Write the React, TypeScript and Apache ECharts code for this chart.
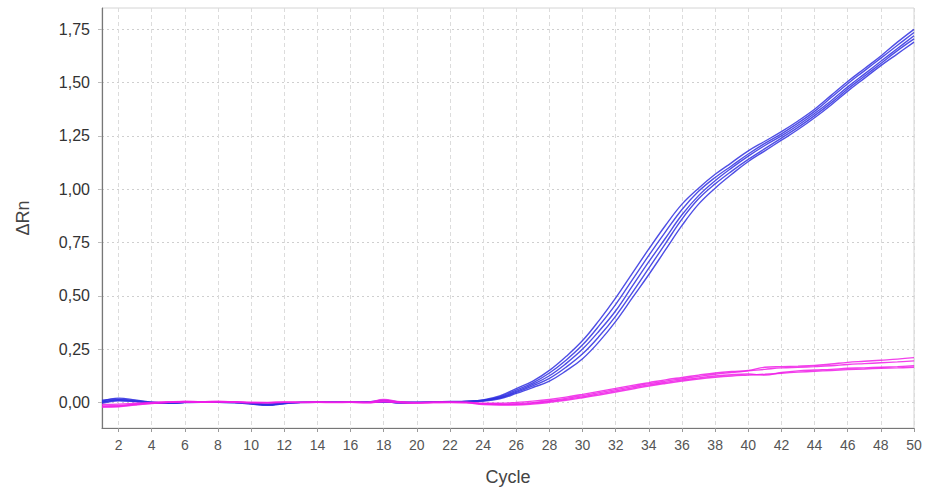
import React, { useEffect, useRef } from "react";
import * as echarts from "echarts";

const cycles = [
  "1", "2", "3", "4", "5", "6", "7", "8", "9", "10",
  "11", "12", "13", "14", "15", "16", "17", "18", "19", "20",
  "21", "22", "23", "24", "25", "26", "27", "28", "29", "30",
  "31", "32", "33", "34", "35", "36", "37", "38", "39", "40",
  "41", "42", "43", "44", "45", "46", "47", "48", "49", "50",
];

const yTicks = [0, 0.25, 0.5, 0.75, 1, 1.25, 1.5, 1.75];

const blueA = [
  0.005, 0.02, 0.012, 0.002, -0.003, 0.0, 0.0, 0.002, 0.0, -0.006,
  -0.012, -0.004, 0.0, 0.001, 0.0, 0.0, 0.002, 0.01, 0.002, 0.0,
  0.002, 0.004, 0.006, 0.012, 0.03, 0.065, 0.1, 0.15, 0.215, 0.29,
  0.385, 0.49, 0.605, 0.72, 0.83, 0.93, 1.005, 1.07, 1.125, 1.18,
  1.225, 1.27, 1.32, 1.375, 1.44, 1.505, 1.565, 1.625, 1.69, 1.75,
];
const blueB = [
  0.01, 0.015, 0.008, 0.0, -0.002, 0.001, 0.0, 0.0, -0.002, -0.008,
  -0.014, -0.006, 0.0, 0.0, 0.001, 0.0, 0.0, 0.006, 0.0, 0.0,
  0.001, 0.003, 0.005, 0.01, 0.026, 0.058, 0.092, 0.138, 0.198, 0.27,
  0.36, 0.46, 0.575, 0.69, 0.8, 0.905, 0.99, 1.055, 1.11, 1.165,
  1.215, 1.26, 1.31, 1.365, 1.43, 1.495, 1.555, 1.615, 1.675, 1.735,
];
const blueC = [
  0.0, 0.012, 0.006, -0.002, -0.004, -0.001, 0.001, 0.001, -0.001, -0.005,
  -0.01, -0.005, -0.001, 0.0, 0.0, 0.001, 0.001, 0.004, -0.002, 0.0,
  0.0, 0.002, 0.004, 0.009, 0.023, 0.052, 0.085, 0.125, 0.182, 0.25,
  0.335, 0.43, 0.545, 0.66, 0.77, 0.88, 0.97, 1.04, 1.1, 1.155,
  1.205, 1.25, 1.3, 1.355, 1.415, 1.48, 1.54, 1.6, 1.66, 1.72,
];
const blueD = [
  -0.004, 0.008, 0.004, -0.003, -0.004, 0.0, 0.0, 0.0, 0.0, -0.004,
  -0.009, -0.003, 0.0, 0.001, 0.001, 0.0, 0.0, 0.003, -0.003, -0.001,
  0.001, 0.002, 0.003, 0.008, 0.02, 0.047, 0.078, 0.113, 0.165, 0.228,
  0.31, 0.405, 0.515, 0.63, 0.745, 0.86, 0.955, 1.025, 1.085, 1.14,
  1.19, 1.24, 1.29, 1.345, 1.405, 1.47, 1.53, 1.59, 1.65, 1.705,
];
const blueE = [
  0.003, 0.01, 0.005, -0.001, -0.003, 0.0, 0.001, 0.001, 0.0, -0.003,
  -0.008, -0.004, 0.0, 0.0, 0.0, 0.001, 0.0, 0.002, -0.001, 0.0,
  0.0, 0.001, 0.003, 0.006, 0.017, 0.042, 0.07, 0.1, 0.148, 0.205,
  0.285, 0.38, 0.49, 0.6, 0.715, 0.83, 0.93, 1.005, 1.07, 1.13,
  1.18, 1.23, 1.28, 1.335, 1.395, 1.46, 1.52, 1.58, 1.635, 1.69,
];

const magentaA = [
  -0.01, -0.008, -0.004, 0.0, 0.003, 0.005, 0.003, 0.005, 0.003, 0.0,
  -0.001, 0.001, 0.001, 0.002, 0.001, 0.002, 0.001, 0.014, 0.003, 0.0,
  0.002, 0.002, 0.001, -0.004, -0.004, 0.0, 0.006, 0.014, 0.025, 0.038,
  0.052, 0.066, 0.08, 0.093, 0.106, 0.117, 0.128, 0.138, 0.145, 0.15,
  0.165, 0.168, 0.17, 0.173, 0.18, 0.188, 0.193, 0.198, 0.203, 0.21,
];
const magentaB = [
  -0.016, -0.014, -0.008, -0.003, 0.001, 0.004, 0.002, 0.004, 0.002, 0.0,
  0.0, 0.001, 0.0, 0.001, 0.0, 0.001, 0.0, 0.008, 0.001, -0.002,
  0.0, 0.001, 0.0, -0.006, -0.008, -0.006, -0.001, 0.008, 0.019, 0.032,
  0.046, 0.06, 0.074, 0.088, 0.1, 0.111, 0.122, 0.132, 0.14, 0.148,
  0.155, 0.162, 0.165, 0.168, 0.172, 0.178, 0.182, 0.186, 0.19, 0.195,
];
const magentaC = [
  -0.02, -0.018, -0.01, -0.004, 0.0, 0.003, 0.001, 0.003, 0.002, -0.001,
  -0.001, 0.0, 0.0, 0.0, 0.0, 0.0, -0.001, 0.005, 0.0, -0.002,
  -0.001, 0.0, -0.001, -0.008, -0.01, -0.009, -0.004, 0.004, 0.014, 0.026,
  0.04, 0.054, 0.068, 0.082, 0.094, 0.105, 0.115, 0.124, 0.13, 0.133,
  0.128, 0.14, 0.148, 0.152, 0.155, 0.16, 0.162, 0.165, 0.168, 0.172,
];
const magentaD = [
  -0.022, -0.02, -0.012, -0.005, 0.0, 0.002, 0.0, 0.002, 0.001, -0.002,
  -0.002, 0.0, -0.001, 0.0, -0.001, 0.0, -0.002, 0.003, -0.002, -0.003,
  -0.001, -0.001, -0.002, -0.01, -0.012, -0.012, -0.008, 0.0, 0.01, 0.022,
  0.035, 0.049, 0.063, 0.077, 0.089, 0.1, 0.11, 0.118, 0.124, 0.128,
  0.132, 0.137, 0.142, 0.146, 0.15, 0.154, 0.157, 0.16, 0.162, 0.165,
];

const blueSeries = [blueA, blueB, blueC, blueD, blueE];
const magentaSeries = [magentaA, magentaB, magentaC, magentaD];

const FONT = "'Liberation Sans', Arial, sans-serif";

export default function App() {
  const ref = useRef<HTMLDivElement>(null);

  useEffect(() => {
    if (!ref.current) return;
    const chart = echarts.init(ref.current, null, { renderer: "svg" });
    const even = (i: number) => i % 2 === 1;
    const mk = (data: number[], color: string) => ({
      type: "line",
      data,
      smooth: 0.4,
      showSymbol: false,
      symbol: "none",
      lineStyle: { color, width: 1.4, opacity: 0.85 },
      itemStyle: { color },
    });
    chart.setOption({
      animation: false,
      grid: {
        left: 102,
        right: 11,
        top: 8,
        bottom: 66,
        show: true,
        borderColor: "#d4d4d4",
        borderWidth: 1,
        backgroundColor: "transparent",
      },
      xAxis: {
        type: "category",
        data: cycles,
        boundaryGap: false,
        name: "Cycle",
        nameLocation: "middle",
        nameGap: 40,
        nameTextStyle: { fontFamily: FONT, fontSize: 18, color: "#444" },
        axisLine: { show: true, onZero: false, lineStyle: { color: "#777", width: 1.2 } },
        axisTick: { show: true, interval: even, length: 4, lineStyle: { color: "#999" } },
        axisLabel: { interval: even, margin: 10, fontSize: 14, color: "#555", fontFamily: FONT },
        splitLine: { show: true, interval: even, lineStyle: { color: "#dcdcdc", type: [4, 3], width: 1 } },
      },
      yAxis: {
        type: "value",
        min: -0.12,
        max: 1.85,
        name: "ΔRn",
        nameLocation: "middle",
        nameGap: 70,
        nameRotate: 90,
        nameTextStyle: { fontFamily: FONT, fontSize: 18, color: "#444" },
        axisLine: { show: true, onZero: false, lineStyle: { color: "#777", width: 1.2 } },
        axisTick: { show: true, customValues: yTicks, length: 4, lineStyle: { color: "#bbb" } },
        axisLabel: {
          customValues: yTicks,
          margin: 12,
          fontSize: 16,
          color: "#333",
          fontFamily: FONT,
          formatter: (v: number) => v.toFixed(2).replace(".", ","),
        },
        splitLine: { show: true, lineStyle: { color: "#cfcfcf", type: [2, 3], width: 1 } },
      },
      series: [
        ...blueSeries.map((d) => mk(d, "#2f2fe0")),
        ...magentaSeries.map((d) => mk(d, "#f01ee8")),
      ],
    });
    return () => chart.dispose();
  }, []);

  return (
    <div
      ref={ref}
      style={{ position: "fixed", left: 0, top: 0, width: 925, height: 494, background: "#fff" }}
    />
  );
}
